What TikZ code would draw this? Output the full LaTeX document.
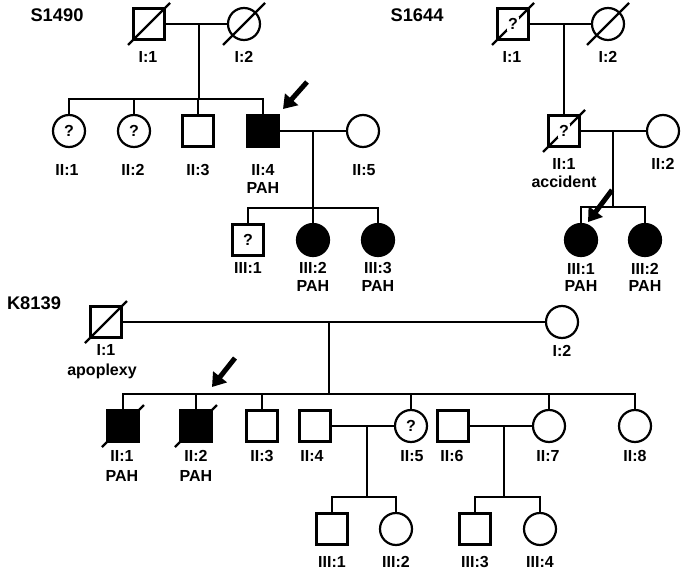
\documentclass[tikz,border=0pt]{standalone}
\usepackage{fontspec}
\setmainfont{Liberation Sans}
\usetikzlibrary{arrows.meta,calc}

% diagonal bar through a deceased person
\newcommand{\deceased}[1]{\draw[pedline] ($(#1)+(-21,21)$) -- ($(#1)+(21,-21)$);}

\begin{document}
\begin{tikzpicture}[x=1pt,y=-1pt,
	pedline/.style={line width=2.2pt},
	male/.style={draw,pedline,rectangle,minimum size=31pt,inner sep=0pt,font=\bfseries\fontsize{16}{18}\selectfont},
	female/.style={draw,pedline,circle,minimum size=32pt,inner sep=0pt,font=\bfseries\fontsize{16}{18}\selectfont},
	affected/.style={fill=black},
	qmark/.style={fill=white,inner sep=1pt,font=\bfseries\fontsize{16}{18}\selectfont},
	lbl/.style={inner sep=0pt,font=\bfseries\fontsize{16}{18}\selectfont},
	famlbl/.style={inner sep=0pt,font=\bfseries\fontsize{18.3}{20}\selectfont},
	pointer/.style={line width=5pt,-{Triangle[length=13pt,width=17pt]}}]
			\fill[white] (0,0) rectangle (685,575);
			\useasboundingbox (0,0) rectangle (685,575);
			%%% S1490
			\node[famlbl] (fS1490) at (57,15) {S1490};
			\node[male] (a1) at (149,24) {};
			\node[female] (a2) at (244,24) {};
			\deceased{a1}
			\deceased{a2}
			\node[female] (a3) at (69,131) {?};
			\node[female] (a4) at (134,131) {?};
			\node[male] (a5) at (198,131) {};
			\node[male,affected] (a6) at (263,131) {};
			\node[female] (a7) at (363,131) {};
			\node[male] (a8) at (248,240) {?};
			\node[female,affected] (a9) at (313,240) {};
			\node[female,affected] (a10) at (378,240) {};
			\coordinate (am1) at (199,24);
			\coordinate (as1) at (199,99);
			\coordinate (am2) at (313,131);
			\coordinate (as2) at (313,208);
			\draw[pedline] (a1.east) -- (a2.west);
			\draw[pedline] (am1) -- (as1);
			\draw[pedline] (a3.north) |- (as1) -| (a6.north);
			\draw[pedline] (a4.north) -- (a4.north |- as1);
			\draw[pedline] (a5.north) -- (a5.north |- as1);
			\draw[pedline] (a6.east) -- (a7.west);
			\draw[pedline] (am2) -- (a9.north);
			\draw[pedline] (a8.north) |- (as2) -| (a10.north);
			\coordinate (ap1) at (307,82);
			\coordinate (ap2) at (283,109);
			\draw[pointer] (ap1) -- (ap2);
			\node[lbl] at (148,57) {I:1};
			\node[lbl] at (244,57) {I:2};
			\node[lbl] at (67,170) {II:1};
			\node[lbl] at (133,170) {II:2};
			\node[lbl] at (198,170) {II:3};
			\node[lbl] at (263,170) {II:4};
			\node[lbl] at (263,188) {PAH};
			\node[lbl] at (364,170) {II:5};
			\node[lbl] at (248,268) {III:1};
			\node[lbl] at (313,268) {III:2};
			\node[lbl] at (313,286) {PAH};
			\node[lbl] at (378,268) {III:3};
			\node[lbl] at (378,286) {PAH};
			%%% S1644
			\node[famlbl] (fS1644) at (417,15) {S1644};
			\node[male] (b1) at (513,24) {};
			\node[female] (b2) at (608,24) {};
			\deceased{b1}
			\deceased{b2}
			\node[qmark] at (b1) {?};
			\node[male] (b3) at (564,131) {};
			\node[female] (b4) at (663,131) {};
			\deceased{b3}
			\node[qmark] at (b3) {?};
			\node[female,affected] (b5) at (581,240) {};
			\node[female,affected] (b6) at (645,240) {};
			\coordinate (bm1) at (564,24);
			\coordinate (bm2) at (613,131);
			\coordinate (bs2) at (613,207);
			\draw[pedline] (b1.east) -- (b2.west);
			\draw[pedline] (bm1) -- (b3.north);
			\draw[pedline] (b3.east) -- (b4.west);
			\draw[pedline] (bm2) -- (bs2);
			\draw[pedline] (b5.north) |- (bs2) -| (b6.north);
			\coordinate (bp1) at (612,190);
			\coordinate (bp2) at (588,222);
			\draw[pointer] (bp1) -- (bp2);
			\node[lbl] at (512,57) {I:1};
			\node[lbl] at (608,57) {I:2};
			\node[lbl] at (564,164) {II:1};
			\node[lbl] at (564,182) {accident};
			\node[lbl] at (663,164) {II:2};
			\node[lbl] at (581,269) {III:1};
			\node[lbl] at (581,286) {PAH};
			\node[lbl] at (645,269) {III:2};
			\node[lbl] at (645,286) {PAH};
			%%% K8139
			\node[famlbl] (fK8139) at (34,303) {K8139};
			\node[male] (c1) at (106,322) {};
			\node[female] (c2) at (562,322) {};
			\deceased{c1}
			\node[male,affected] (c3) at (123,426) {};
			\node[male,affected] (c4) at (196,426) {};
			\deceased{c3}
			\deceased{c4}
			\node[male] (c5) at (262,426) {};
			\node[male] (c6) at (315,426) {};
			\node[female] (c7) at (411,426) {?};
			\node[male] (c8) at (453,426) {};
			\node[female] (c9) at (549,426) {};
			\node[female] (c10) at (635,426) {};
			\node[male] (d1) at (332,529) {};
			\node[female] (d2) at (396,529) {};
			\node[male] (d3) at (475,529) {};
			\node[female] (d4) at (540,529) {};
			\coordinate (cm1) at (329,322);
			\coordinate (cs1) at (329,394);
			\coordinate (cm2) at (367,426);
			\coordinate (cs2) at (367,497);
			\coordinate (cm3) at (504,426);
			\coordinate (cs3) at (504,497);
			\draw[pedline] (c1.east) -- (c2.west);
			\draw[pedline] (cm1) -- (cs1);
			\draw[pedline] (c3.north) |- (cs1) -| (c10.north);
			\foreach \kid in {c4,c5,c7,c9}
				\draw[pedline] (\kid.north) -- (\kid.north |- cs1);
			\draw[pedline] (c6.east) -- (c7.west);
			\draw[pedline] (cm2) -- (cs2);
			\draw[pedline] (d1.north) |- (cs2) -| (d2.north);
			\draw[pedline] (c8.east) -- (c9.west);
			\draw[pedline] (cm3) -- (cs3);
			\draw[pedline] (d3.north) |- (cs3) -| (d4.north);
			\coordinate (cp1) at (235,358);
			\coordinate (cp2) at (212,387);
			\draw[pointer] (cp1) -- (cp2);
			\node[lbl] at (106,350) {I:1};
			\node[lbl] at (102,371) {apoplexy};
			\node[lbl] at (562,351) {I:2};
			\node[lbl] at (122,456) {II:1};
			\node[lbl] at (122,476) {PAH};
			\node[lbl] at (196,456) {II:2};
			\node[lbl] at (196,476) {PAH};
			\node[lbl] at (262,456) {II:3};
			\node[lbl] at (312,456) {II:4};
			\node[lbl] at (412,456) {II:5};
			\node[lbl] at (452,456) {II:6};
			\node[lbl] at (548,456) {II:7};
			\node[lbl] at (635,456) {II:8};
			\node[lbl] at (332,562) {III:1};
			\node[lbl] at (396,562) {III:2};
			\node[lbl] at (475,562) {III:3};
			\node[lbl] at (540,562) {III:4};
		\end{tikzpicture}
\end{document}
